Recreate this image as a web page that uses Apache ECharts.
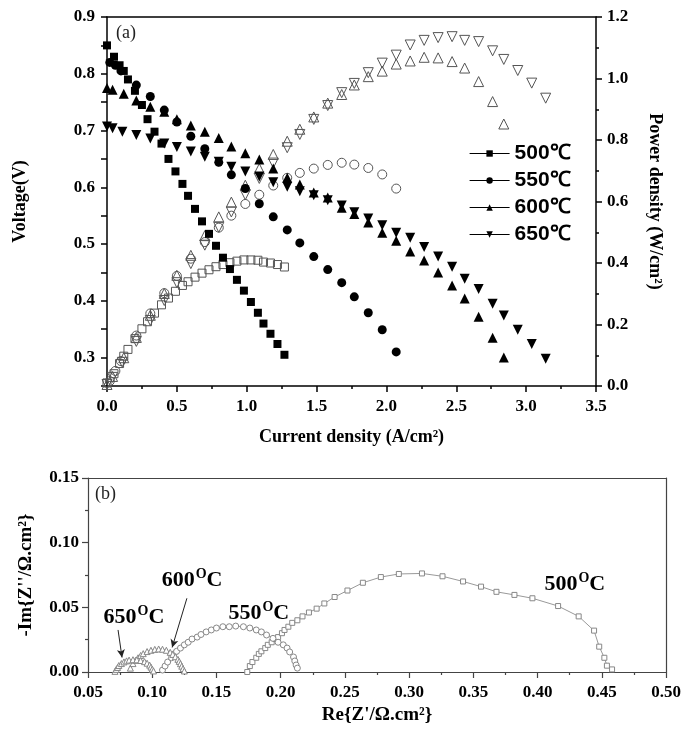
<!DOCTYPE html>
<html>
<head>
<meta charset="utf-8">
<script src="https://cdn.jsdelivr.net/npm/echarts@6/dist/echarts.min.js"></script>
<style>html,body{margin:0;padding:0;background:#fff}#c{width:684px;height:735px}</style>
</head>
<body>
<div id="c"></div>
<script>
// ---------- (a) I-V and I-P curves ----------
const I500 = [0.00,0.05,0.09,0.12,0.15,0.20,0.25,0.29,0.34,0.39,0.44,0.49,0.54,0.58,0.63,0.68,0.73,0.78,0.83,0.88,0.93,0.98,1.03,1.08,1.12,1.17,1.22,1.27];
const V500 = [0.85,0.83,0.815,0.805,0.79,0.77,0.745,0.72,0.698,0.677,0.65,0.628,0.606,0.585,0.562,0.54,0.518,0.497,0.476,0.456,0.437,0.418,0.398,0.379,0.36,0.342,0.324,0.305];
const P500 = [0.01,0.04,0.073,0.097,0.119,0.154,0.186,0.209,0.237,0.264,0.286,0.308,0.327,0.339,0.354,0.367,0.378,0.388,0.395,0.401,0.406,0.41,0.41,0.409,0.403,0.40,0.395,0.387];

const I550 = [0.02,0.06,0.10,0.21,0.31,0.41,0.50,0.60,0.70,0.80,0.89,0.99,1.09,1.19,1.29,1.38,1.48,1.58,1.68,1.77,1.87,1.97,2.07];
const V550 = [0.82,0.815,0.805,0.78,0.76,0.736,0.715,0.69,0.668,0.644,0.622,0.598,0.571,0.548,0.525,0.502,0.478,0.455,0.432,0.407,0.379,0.349,0.31];
const P550 = [0.016,0.049,0.081,0.164,0.236,0.302,0.358,0.414,0.468,0.515,0.554,0.592,0.622,0.652,0.677,0.693,0.707,0.719,0.726,0.72,0.709,0.688,0.642];

const I600 = [0.00,0.04,0.12,0.21,0.31,0.41,0.50,0.60,0.70,0.80,0.89,0.99,1.09,1.19,1.29,1.38,1.48,1.58,1.68,1.77,1.87,1.97,2.07,2.17,2.27,2.37,2.47,2.56,2.66,2.76,2.84];
const V600 = [0.775,0.772,0.765,0.753,0.742,0.733,0.72,0.709,0.698,0.687,0.672,0.66,0.649,0.633,0.617,0.605,0.591,0.582,0.564,0.553,0.538,0.52,0.506,0.487,0.471,0.45,0.427,0.404,0.372,0.335,0.30];
const P600 = [0.005,0.031,0.092,0.158,0.23,0.301,0.36,0.425,0.489,0.55,0.598,0.653,0.707,0.753,0.796,0.835,0.875,0.92,0.948,0.979,1.006,1.024,1.047,1.057,1.069,1.067,1.055,1.034,0.99,0.925,0.852];

const I650 = [0.00,0.04,0.11,0.21,0.31,0.41,0.50,0.60,0.70,0.80,0.89,0.99,1.09,1.19,1.29,1.38,1.48,1.58,1.68,1.77,1.87,1.97,2.07,2.17,2.27,2.37,2.47,2.56,2.66,2.76,2.84,2.94,3.04,3.14];
const V650 = [0.707,0.704,0.698,0.692,0.686,0.677,0.671,0.663,0.654,0.645,0.636,0.628,0.619,0.609,0.601,0.593,0.586,0.577,0.568,0.556,0.545,0.533,0.52,0.511,0.495,0.478,0.46,0.439,0.421,0.395,0.374,0.349,0.324,0.298];
const P650 = [0.005,0.028,0.077,0.145,0.213,0.278,0.336,0.398,0.458,0.516,0.566,0.622,0.675,0.725,0.775,0.818,0.867,0.912,0.954,0.984,1.019,1.05,1.076,1.109,1.124,1.133,1.136,1.124,1.12,1.09,1.062,1.026,0.985,0.936];

const legendNames = ['500\u2103','550\u2103','600\u2103','650\u2103'];

// ---------- (b) impedance spectra ----------
const Z500re = [0.174,0.176,0.178,0.181,0.183,0.185,0.188,0.190,0.193,0.196,0.198,0.201,0.203,0.206,0.209,0.213,0.217,0.222,0.228,0.234,0.242,0.252,0.264,0.278,0.292,0.310,0.326,0.342,0.356,0.368,0.382,0.396,0.416,0.432,0.444,0.448,0.452,0.454,0.458];
const Z500im = [0,0.0046,0.0077,0.011,0.014,0.016,0.0185,0.021,0.023,0.0255,0.027,0.030,0.0325,0.035,0.038,0.040,0.043,0.046,0.049,0.053,0.058,0.063,0.069,0.0734,0.0758,0.0762,0.074,0.070,0.066,0.062,0.0596,0.057,0.051,0.043,0.032,0.0196,0.011,0.0049,0.002];

const Z550re = [0.108,0.110,0.112,0.115,0.117,0.119,0.122,0.125,0.128,0.131,0.135,0.138,0.142,0.146,0.150,0.155,0.160,0.165,0.171,0.176,0.181,0.185,0.189,0.194,0.198,0.202,0.205,0.207,0.210,0.211,0.212,0.213];
const Z550im = [0.0015,0.0046,0.0077,0.011,0.014,0.016,0.0185,0.021,0.023,0.0255,0.027,0.029,0.031,0.0325,0.034,0.035,0.035,0.0355,0.035,0.034,0.0325,0.031,0.0286,0.026,0.023,0.021,0.0185,0.0155,0.0116,0.0085,0.0054,0.003];

const Z600re = [0.083,0.085,0.087,0.089,0.091,0.093,0.096,0.099,0.102,0.105,0.108,0.111,0.114,0.116,0.118,0.120,0.121,0.122,0.123,0.124,0.125];
const Z600im = [0.003,0.0065,0.009,0.011,0.0128,0.0142,0.0158,0.0168,0.0175,0.0178,0.0176,0.0168,0.0152,0.0136,0.0118,0.0098,0.0082,0.0064,0.0045,0.0026,0.0008];

const Z650re = [0.071,0.072,0.073,0.074,0.076,0.078,0.080,0.082,0.085,0.088,0.091,0.094,0.096,0.098,0.099,0.100,0.101];
const Z650im = [0.0005,0.002,0.0035,0.005,0.0065,0.0078,0.0086,0.0092,0.0095,0.0094,0.0089,0.008,0.0068,0.0053,0.0038,0.0022,0.0008];

const nyqLabels = [
  {t:'500', x:0.429, y:0.0688},
  {t:'550', x:0.183, y:0.0464},
  {t:'600', x:0.131, y:0.0719},
  {t:'650', x:0.0858, y:0.0433}
];
const arrow650 = [[0.0734,0.0325],[0.0765,0.0112]];
const arrow600 = [[0.127,0.057],[0.1155,0.0190]];

// ---------- build ----------
const zip = (a,b) => a.map((v,i)=>[v,b[i]]);
const serif = 'Liberation Serif';
const tickFont = {fontFamily: serif, fontWeight:'bold', fontSize:17, color:'#000'};

function axisCommon(color, lw){
  return {
    axisLine:{show:true, onZero:false, lineStyle:{color:color, width:lw}},
    axisTick:{show:true, inside:false, length:6, lineStyle:{color:color, width:lw}},
    minorTick:{show:true, splitNumber:2, length:3, lineStyle:{color:color, width:lw}},
    splitLine:{show:false}, minorSplitLine:{show:false}
  };
}
function frameAxis(gi, pos, min, max, color, lw){
  return {type:'value', gridIndex:gi, position:pos, min:min, max:max,
    axisLine:{show:true, onZero:false, lineStyle:{color:color, width:lw}},
    axisTick:{show:false}, axisLabel:{show:false}, splitLine:{show:false}};
}

const filled = [
  {name:legendNames[0], I:I500, V:V500, sym:'rect', size:8, rot:0},
  {name:legendNames[1], I:I550, V:V550, sym:'circle', size:9, rot:0},
  {name:legendNames[2], I:I600, V:V600, sym:'triangle', size:10, rot:0},
  {name:legendNames[3], I:I650, V:V650, sym:'triangle', size:10, rot:180}
];
const open = [
  {I:I500, P:P500, sym:'rect', size:8, rot:0},
  {I:I550, P:P550, sym:'circle', size:9, rot:0},
  {I:I600, P:P600, sym:'triangle', size:10, rot:0},
  {I:I650, P:P650, sym:'triangle', size:10, rot:180}
];

const series = [];
filled.forEach(s=>{
  series.push({
    type:'line', name:s.name, xAxisIndex:0, yAxisIndex:0,
    data: zip(s.I, s.V), symbol:s.sym, symbolSize:s.size, symbolRotate:s.rot,
    showSymbol:true, lineStyle:{opacity:0, width:0}, itemStyle:{color:'#000'},
    emphasis:{disabled:true}, z:3
  });
});
open.forEach(s=>{
  series.push({
    type:'scatter', xAxisIndex:0, yAxisIndex:1,
    data: zip(s.I, s.P), symbol:s.sym, symbolSize:s.size, symbolRotate:s.rot,
    itemStyle:{color:'rgba(0,0,0,0)', borderColor:'#555', borderWidth:1, opacity:1},
    emphasis:{disabled:true}, z:2
  });
});

const nyq = [
  {re:Z500re, im:Z500im, sym:'rect', size:5, rot:0},
  {re:Z550re, im:Z550im, sym:'circle', size:6, rot:0},
  {re:Z600re, im:Z600im, sym:'triangle', size:6, rot:0},
  {re:Z650re, im:Z650im, sym:'triangle', size:6, rot:0}
];
nyq.forEach((s,i)=>{
  const o = {
    type:'line', xAxisIndex:2, yAxisIndex:2, data:zip(s.re, s.im),
    symbol:s.sym, symbolSize:s.size, symbolRotate:s.rot, showSymbol:true,
    lineStyle:{color:'#999', width:1},
    itemStyle:{color:'#fff', borderColor:'#888', borderWidth:1},
    emphasis:{disabled:true}
  };
  if (i===3){
    o.markLine = {
      silent:true, symbol:['none','arrow'], symbolSize:[6,8],
      lineStyle:{color:'#222', width:1, type:'solid'}, label:{show:false},
      data:[
        [{coord:arrow650[0]},{coord:arrow650[1]}],
        [{coord:arrow600[0]},{coord:arrow600[1]}]
      ]
    };
  }
  series.push(o);
});
series.push({
  type:'scatter', xAxisIndex:2, yAxisIndex:2, symbolSize:0, silent:true,
  itemStyle:{color:'#000', opacity:1},
  data: nyqLabels.map(d=>({value:[d.x,d.y], name:d.t})),
  label:{show:true, position:'inside', color:'#000', opacity:1, textBorderWidth:0,
    formatter: p => '{n|'+p.name+'}{s|O}{n|C}',
    rich:{
      n:{fontFamily:serif, fontWeight:'bold', fontSize:22, color:'#000', lineHeight:24, verticalAlign:'bottom'},
      s:{fontFamily:serif, fontWeight:'bold', fontSize:14, color:'#000', lineHeight:24, verticalAlign:'top', padding:[0,0,0,1]}
    }
  }
});

const cA = axisCommon('#000', 1.5);
const cB = axisCommon('#444', 1.2);

const option = {
  animation:false,
  backgroundColor:'#fff',
  grid:[
    {left:107, right:88, top:17, bottom:349, outerBoundsMode:'none', containLabel:false},
    {left:88, right:18, top:478, bottom:63, outerBoundsMode:'none', containLabel:false}
  ],
  legend:{
    data:legendNames, orient:'vertical', left:464, top:138,
    itemWidth:40, itemHeight:8, itemGap:6,
    lineStyle:{color:'#000', width:1.2, opacity:1},
    textStyle:{fontFamily:'Liberation Sans', fontWeight:'bold', fontSize:21, color:'#000'},
    selectedMode:false
  },
  xAxis:[
    Object.assign({type:'value', gridIndex:0, position:'bottom', min:0, max:3.5, interval:0.5,
      name:'Current density (A/cm\u00b2)', nameLocation:'middle', nameGap:42,
      nameTextStyle:{fontFamily:serif, fontWeight:'bold', fontSize:18, color:'#000'},
      axisLabel:Object.assign({margin:12, formatter:v=>v.toFixed(1)}, tickFont)}, cA),
    frameAxis(0,'top',0,3.5,'#000',1.5),
    Object.assign({type:'value', gridIndex:1, position:'bottom', min:0.05, max:0.5, interval:0.05,
      name:'Re{Z\'/\u03a9.cm\u00b2}', nameLocation:'middle', nameGap:34,
      nameTextStyle:{fontFamily:serif, fontWeight:'bold', fontSize:19, color:'#000'},
      axisLabel:Object.assign({margin:12, formatter:v=>v.toFixed(2)}, tickFont)}, cB),
    frameAxis(1,'top',0.05,0.5,'#444',1.2)
  ],
  yAxis:[
    Object.assign({type:'value', gridIndex:0, position:'left', min:0.25, max:0.9, interval:0.05,
      name:'Voltage(V)', nameLocation:'middle', nameGap:78,
      nameTextStyle:{fontFamily:serif, fontWeight:'bold', fontSize:18, color:'#000'},
      axisLabel:Object.assign({margin:12, formatter:v=>{const k=Math.round(v*100); return k%10===0 ? (k/100).toFixed(1) : '';}}, tickFont)},
      cA, {minorTick:{show:false}}),
    Object.assign({type:'value', gridIndex:0, position:'right', min:0, max:1.2, interval:0.2,
      name:'Power density (W/cm\u00b2)', nameLocation:'middle', nameGap:50, nameRotate:-90,
      nameTextStyle:{fontFamily:serif, fontWeight:'bold', fontSize:18, color:'#000'},
      axisLabel:Object.assign({margin:11, formatter:v=>v.toFixed(1)}, tickFont)}, cA),
    Object.assign({type:'value', gridIndex:1, position:'left', min:0, max:0.15, interval:0.05,
      name:'-Im{Z\'\'/\u03a9.cm\u00b2}', nameLocation:'middle', nameGap:52,
      nameTextStyle:{fontFamily:serif, fontWeight:'bold', fontSize:19, color:'#000'},
      axisLabel:Object.assign({margin:9, formatter:v=>v.toFixed(2)}, tickFont)}, cB),
    frameAxis(1,'right',0,0.15,'#444',1.2)
  ],
  graphic:[
    {type:'text', left:116, top:24, style:{text:'(a)', fontFamily:serif, fontSize:18, fill:'#222'}},
    {type:'text', left:95, top:485, style:{text:'(b)', fontFamily:serif, fontSize:18, fill:'#222'}}
  ],
  series:series
};

const chart = echarts.init(document.getElementById('c'), null, {renderer:'canvas'});
chart.setOption(option);
</script>
</body>
</html>
